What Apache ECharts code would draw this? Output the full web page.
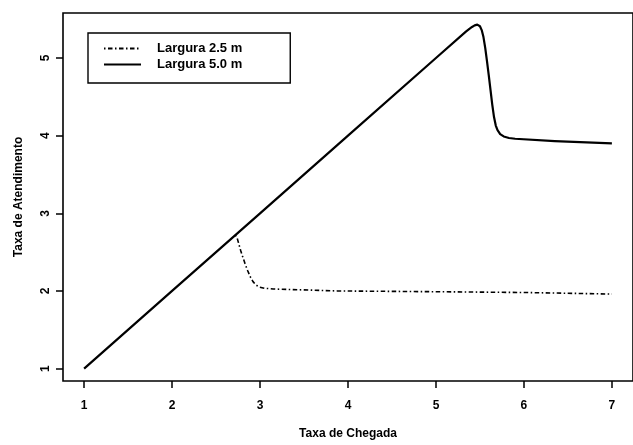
<!DOCTYPE html>
<html>
<head>
<meta charset="utf-8">
<script src="https://cdn.jsdelivr.net/npm/echarts@6/dist/echarts.min.js"></script>
<style>
  html, body { margin: 0; padding: 0; background: #fff; }
  #chart { width: 633px; height: 445px; }
</style>
</head>
<body>
<div id="chart"></div>
<script>
// Taxa de atendimento em função da taxa de chegada, para duas larguras
const seriesNames = ['Largura 2.5 m', 'Largura 5.0 m'];

// Largura 2.5 m (traço-ponto)
const chegada25 = [2.72, 2.74, 2.76, 2.78, 2.80, 2.83, 2.86, 2.89, 2.92, 2.95, 2.99, 3.05, 3.15, 3.30, 3.88, 5.0, 6.0, 7.0];
const atend25   = [2.72, 2.68, 2.60, 2.52, 2.45, 2.35, 2.26, 2.18, 2.12, 2.08, 2.05, 2.035, 2.025, 2.02, 2.00, 1.99, 1.98, 1.96];

// Largura 5.0 m (linha contínua)
const chegada50 = [1.0, 2.0, 3.0, 4.0, 5.0, 5.34, 5.38, 5.41, 5.44, 5.47, 5.50, 5.52, 5.54, 5.56, 5.58, 5.60, 5.62,
                   5.64, 5.66, 5.68, 5.70, 5.73, 5.77, 5.83, 5.90, 6.35, 7.0];
const atend50   = [1.0, 2.0, 3.0, 4.0, 5.0, 5.34, 5.375, 5.40, 5.42, 5.43, 5.41, 5.36, 5.27, 5.13, 4.96, 4.78, 4.59,
                   4.40, 4.24, 4.13, 4.07, 4.02, 3.99, 3.97, 3.96, 3.93, 3.90];

const xTicks = [1, 2, 3, 4, 5, 6, 7];
const yTicks = [1, 2, 3, 4, 5];

const pairs = (xs, ys) => xs.map((x, i) => [x, ys[i]]);

const FONT = 'Liberation Sans';
const chart = echarts.init(document.getElementById('chart'), null, { renderer: 'canvas' });

chart.setOption({
  animation: false,
  backgroundColor: '#ffffff',
  textStyle: { fontFamily: FONT, color: '#000' },
  grid: {
    left: 63, top: 13, right: -6, bottom: 62,
    show: true, borderColor: '#000', borderWidth: 1.6, backgroundColor: 'transparent'
  },
  legend: {
    orient: 'vertical',
    left: 88, top: 33,
    padding: [9, 48, 12, 15],
    itemWidth: 37, itemHeight: 14, itemGap: 3,
    align: 'left',
    borderColor: '#000', borderWidth: 1.4,
    itemStyle: { opacity: 0 },
    textStyle: { fontFamily: FONT, fontSize: 13, fontWeight: 'bold', color: '#000', padding: [0, 0, 0, 11] },
    data: seriesNames
  },
  xAxis: {
    type: 'value',
    min: 0.76, max: 7.24,
    name: 'Taxa de Chegada',
    nameLocation: 'middle', nameGap: 47,
    nameTextStyle: { fontFamily: FONT, fontSize: 12, fontWeight: 'bold', color: '#000' },
    axisLine: { show: false },
    axisTick: { show: true, customValues: xTicks, length: 7, inside: false,
                lineStyle: { color: '#000', width: 1.5 } },
    axisLabel: { customValues: xTicks, margin: 19, fontFamily: FONT, fontSize: 12,
                 fontWeight: 'bold', color: '#000' },
    splitLine: { show: false }
  },
  yAxis: {
    type: 'value',
    min: 0.84, max: 5.58,
    name: 'Taxa de Atendimento',
    nameLocation: 'middle', nameGap: 38,
    nameTextStyle: { fontFamily: FONT, fontSize: 12, fontWeight: 'bold', color: '#000' },
    axisLine: { show: false },
    axisTick: { show: true, customValues: yTicks, length: 7, inside: false,
                lineStyle: { color: '#000', width: 1.5 } },
    axisLabel: { customValues: yTicks, rotate: 90, margin: 11, fontFamily: FONT,
                 fontSize: 12, fontWeight: 'bold', color: '#000' },
    splitLine: { show: false }
  },
  series: [
    {
      name: seriesNames[0],
      type: 'line',
      data: pairs(chegada25, atend25),
      showSymbol: false, symbol: 'none',
      smooth: false,
      color: '#000',
      lineStyle: { color: '#000', width: 1.6, type: [1.5, 2.5, 4.5, 2.5] },
      z: 3
    },
    {
      name: seriesNames[1],
      type: 'line',
      data: pairs(chegada50, atend50),
      showSymbol: false, symbol: 'none',
      smooth: false,
      color: '#000',
      lineStyle: { color: '#000', width: 2.2, type: 'solid', join: 'round' },
      z: 4
    }
  ]
});
</script>
</body>
</html>
